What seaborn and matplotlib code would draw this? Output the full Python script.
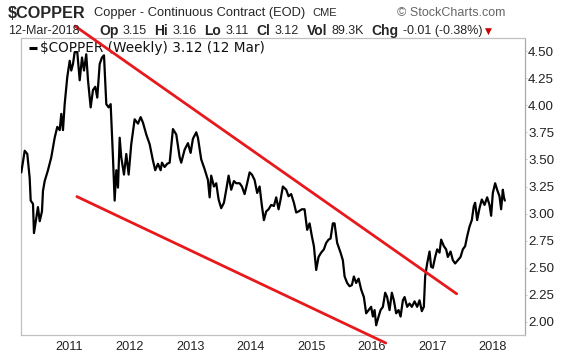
import matplotlib
matplotlib.use("Agg")
import matplotlib.pyplot as plt
import seaborn as sns
import pandas as pd

# ---- data (decimal year, price in $/lb) ----
years = [2010.213, 2010.269, 2010.312, 2010.351, 2010.368, 2010.406, 2010.422, 2010.460,
         2010.488, 2010.517, 2010.554, 2010.571, 2010.599, 2010.653, 2010.708, 2010.764,
         2010.807, 2010.847, 2010.873, 2010.901, 2010.929, 2010.972, 2011.012, 2011.038,
         2011.066, 2011.094, 2011.137, 2011.177, 2011.215, 2011.248, 2011.285, 2011.314,
         2011.358, 2011.396, 2011.434, 2011.467, 2011.507, 2011.545, 2011.578, 2011.616,
         2011.655, 2011.688, 2011.726, 2011.754, 2011.781, 2011.809, 2011.837, 2011.863,
         2011.908, 2011.946, 2011.985, 2012.028, 2012.084, 2012.139, 2012.183, 2012.221,
         2012.276, 2012.332, 2012.386, 2012.424, 2012.469, 2012.513, 2012.535, 2012.579,
         2012.622, 2012.662, 2012.716, 2012.771, 2012.800, 2012.827, 2012.853, 2012.909,
         2012.964, 2013.008, 2013.046, 2013.101, 2013.129, 2013.183, 2013.239, 2013.294,
         2013.322, 2013.348, 2013.393, 2013.431, 2013.470, 2013.513, 2013.558, 2013.596,
         2013.635, 2013.678, 2013.723, 2013.761, 2013.817, 2013.855, 2013.899, 2013.942,
         2013.982, 2014.020, 2014.064, 2014.107, 2014.147, 2014.185, 2014.218, 2014.256,
         2014.295, 2014.338, 2014.383, 2014.421, 2014.460, 2014.493, 2014.531, 2014.586,
         2014.625, 2014.668, 2014.713, 2014.751, 2014.790, 2014.845, 2014.889, 2014.932,
         2014.972, 2015.010, 2015.043, 2015.081, 2015.120, 2015.163, 2015.208, 2015.246,
         2015.285, 2015.318, 2015.356, 2015.384, 2015.427, 2015.483, 2015.521, 2015.550,
         2015.592, 2015.632, 2015.670, 2015.703, 2015.741, 2015.781, 2015.823, 2015.868,
         2015.906, 2015.946, 2015.988, 2016.017, 2016.045, 2016.071, 2016.111, 2016.144,
         2016.182, 2016.220, 2016.252, 2016.292, 2016.330, 2016.363, 2016.401, 2016.441,
         2016.474, 2016.512, 2016.540, 2016.583, 2016.622, 2016.660, 2016.705, 2016.748,
         2016.787, 2016.825, 2016.858, 2016.880, 2016.913, 2016.952, 2016.978, 2017.007,
         2017.045, 2017.078, 2017.117, 2017.144, 2017.188, 2017.226, 2017.254, 2017.299,
         2017.337, 2017.375, 2017.419, 2017.464, 2017.502, 2017.540, 2017.573, 2017.612,
         2017.650, 2017.683, 2017.705, 2017.738, 2017.777, 2017.815, 2017.860, 2017.903,
         2017.942, 2017.969, 2017.997, 2018.035, 2018.068, 2018.107, 2018.134, 2018.162,
         2018.180, 2018.195]
prices = [3.38, 3.58, 3.55, 3.33, 3.12, 3.09, 2.82, 2.96,
          3.06, 2.93, 3.02, 3.21, 3.30, 3.40, 3.52, 3.70,
          3.80, 3.77, 3.92, 3.77, 4.01, 4.26, 4.41, 4.32,
          4.38, 4.49, 4.49, 4.23, 4.44, 4.32, 4.47, 4.23,
          3.98, 4.14, 4.17, 4.07, 4.38, 4.44, 4.46, 4.01,
          3.98, 4.01, 3.52, 3.12, 3.40, 3.24, 3.70, 3.52,
          3.36, 3.55, 3.36, 3.64, 3.87, 3.83, 3.89, 3.84,
          3.73, 3.64, 3.49, 3.40, 3.46, 3.40, 3.47, 3.43,
          3.46, 3.47, 3.78, 3.73, 3.62, 3.52, 3.47, 3.59,
          3.65, 3.56, 3.69, 3.75, 3.70, 3.50, 3.41, 3.31,
          3.15, 3.35, 3.25, 3.28, 3.13, 3.05, 3.10, 3.22,
          3.35, 3.22, 3.30, 3.28, 3.28, 3.25, 3.18, 3.28,
          3.38, 3.36, 3.31, 3.19, 3.25, 3.07, 2.94, 3.02,
          3.04, 3.08, 3.07, 3.15, 3.04, 3.13, 3.25, 3.22,
          3.16, 3.18, 3.10, 3.01, 3.02, 3.04, 3.04, 2.85,
          2.91, 2.79, 2.70, 2.48, 2.60, 2.64, 2.67, 2.73,
          2.76, 2.77, 2.91, 2.91, 2.73, 2.64, 2.57, 2.42,
          2.36, 2.33, 2.34, 2.42, 2.36, 2.40, 2.30, 2.23,
          2.08, 2.11, 2.14, 2.05, 2.11, 1.97, 2.05, 2.11,
          2.14, 2.27, 2.23, 2.11, 2.27, 2.20, 2.08, 2.11,
          2.05, 2.20, 2.23, 2.14, 2.17, 2.14, 2.19, 2.14,
          2.20, 2.10, 2.14, 2.42, 2.54, 2.65, 2.51, 2.50,
          2.60, 2.67, 2.64, 2.76, 2.70, 2.67, 2.60, 2.65,
          2.57, 2.54, 2.57, 2.60, 2.67, 2.70, 2.79, 2.88,
          2.94, 3.07, 3.10, 2.94, 3.05, 3.13, 3.08, 3.15,
          3.08, 2.98, 3.19, 3.28, 3.22, 3.16, 3.04, 3.22,
          3.15, 3.12]

# trend lines (start / end points)
upper_x = [2011.10, 2017.40]
upper_y = [4.73, 2.26]
lower_x = [2011.13, 2016.23]
lower_y = [3.157, 1.806]

year_ticks = [2011, 2012, 2013, 2014, 2015, 2016, 2017, 2018]
price_ticks = [2.00, 2.25, 2.50, 2.75, 3.00, 3.25, 3.50, 3.75, 4.00, 4.25, 4.50]

# quote line labels and values
quote_labels = ["Op", "Hi", "Lo", "Cl", "Vol", "Chg"]
quote_values = ["3.15", "3.16", "3.11", "3.12", "89.3K", "-0.01 (-0.38%)"]

df = pd.DataFrame({"year": years, "price": prices})
up = pd.DataFrame({"x": upper_x, "y": upper_y})
lo = pd.DataFrame({"x": lower_x, "y": lower_y})

sns.set_style("white")
plt.rcParams["font.family"] = ["Liberation Sans", "DejaVu Sans"]

fig = plt.figure(figsize=(5.76, 3.56), dpi=100)
ax = fig.add_axes([21 / 576, 1 - 335 / 356, (525 - 21) / 576, (335 - 38) / 356])

sns.lineplot(data=df, x="year", y="price", ax=ax, color="black", linewidth=1.6,
             estimator=None, sort=False, zorder=3)
sns.lineplot(data=up, x="x", y="y", ax=ax, color="#e8191c", linewidth=2.0,
             estimator=None, sort=False, clip_on=False, zorder=4)
sns.lineplot(data=lo, x="x", y="y", ax=ax, color="#e8191c", linewidth=2.0,
             estimator=None, sort=False, clip_on=False, zorder=4)

ax.set_xlim(2010.208, 2018.528)
ax.set_ylim(1.880, 4.62)
ax.set_xticks(year_ticks)
ax.set_xticklabels([str(y) for y in year_ticks])
ax.set_yticks(price_ticks)
ax.set_yticklabels([f"{p:.2f}" for p in price_ticks])
ax.yaxis.tick_right()
ax.set_xlabel("")
ax.set_ylabel("")
ax.tick_params(axis="x", labelsize=9.2, colors="#bbbbbb", labelcolor="#222222",
               length=2, width=0.6, pad=2)
ax.tick_params(axis="y", labelsize=9.6, colors="#bbbbbb", labelcolor="#222222",
               length=1.2, width=0.6, pad=1)
for s in ax.spines.values():
    s.set_color("#c0c0c0")
    s.set_linewidth(0.9)
ax.spines["right"].set_linestyle((0, (1, 1)))
ax.spines["right"].set_color("#aaaaaa")

# legend-like label inside the plot
ax.plot([0.015, 0.032], [0.965, 0.965], transform=ax.transAxes, color="black",
        linewidth=2.2, solid_capstyle="butt")
ax.text(0.038, 0.965, "$COPPER (Weekly) 3.12 (12 Mar)", transform=ax.transAxes,
        fontsize=9.8, va="center", ha="left", family=["DejaVu Sans"], color="#111111")

# header
fig.text(8 / 576, 1 - 13 / 356, "$COPPER", fontsize=11.7, fontweight="bold",
         va="center", ha="left")
fig.text(94 / 576, 1 - 13 / 356, "Copper - Continuous Contract (EOD)", fontsize=9.3,
         va="center", ha="left")
fig.text(312 / 576, 1 - 13 / 356, "CME", fontsize=8, va="center", ha="left")
fig.text(397 / 576, 1 - 13 / 356, "© StockCharts.com", fontsize=9, va="center",
         ha="left", color="#666666")

y2 = 1 - 31 / 356
fig.text(8 / 576, y2, "12-Mar-2018", fontsize=9, va="center", ha="left")

renderer = fig.canvas.get_renderer()
xpos = 99.0
for lab, val in zip(quote_labels, quote_values):
    t = fig.text(xpos / 576, y2, lab, fontsize=10.0, fontweight="bold",
                 va="center", ha="left")
    xpos += t.get_window_extent(renderer).width + 4
    t = fig.text(xpos / 576, y2, val, fontsize=9.0, va="center", ha="left")
    xpos += t.get_window_extent(renderer).width + 8
fig.text((xpos - 5) / 576, y2, "▼", fontsize=6.5, color="#cc0000", va="center",
         ha="left", family=["DejaVu Sans"])

fig.savefig("out.png", dpi=100, facecolor="white")
